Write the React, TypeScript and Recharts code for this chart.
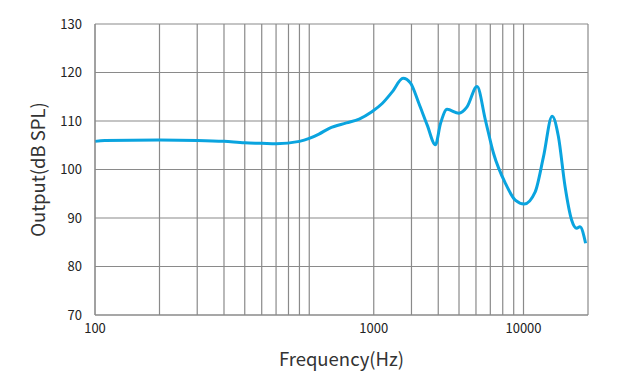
import React from 'react';
import { LineChart, Line, XAxis, YAxis, CartesianGrid } from 'recharts';

// frequency response
const freqs = [100, 111, 200, 300, 400, 500, 600, 700, 900, 1000, 1110, 1240, 1490, 1710, 1960, 2190, 2440, 2740, 2970, 3250, 3550, 3880, 4100, 4400, 4990, 5450, 6070, 6640, 7250, 8220, 9150, 10080, 11340, 12390, 13600, 14550, 15630, 16770, 17700, 18350, 19490];
const output = [105.8, 106.0, 106.1, 106.0, 105.8, 105.5, 105.4, 105.3, 105.8, 106.4, 107.3, 108.5, 109.6, 110.4, 111.9, 113.6, 116.0, 118.8, 117.8, 113.6, 109.2, 105.1, 109.5, 112.4, 111.6, 112.9, 117.1, 110.2, 103.3, 97.2, 93.7, 92.9, 95.4, 102.6, 111.0, 106.8, 96.5, 89.6, 87.9, 88.2, 84.8];

const gridFreqs = [100, 200, 300, 400, 500, 600, 700, 800, 900, 1000, 2000, 3000, 4000, 5000, 6000, 7000, 8000, 9000, 10000, 20000];
// the reference prints its labels at these grid lines
const tickLabels: Record<number, string> = { 100: '100', 2000: '1000', 10000: '10000' };
const yTicks = [70, 80, 90, 100, 110, 120, 130];

const data = freqs.map((f, i) => ({ freq: f, out: output[i] }));

const font = '"Noto Sans CJK SC", "Noto Sans", sans-serif';

export default function App() {
  return (
    <div style={{ position: 'absolute', left: 0, top: 0, background: '#fff' }}>
      <LineChart width={624} height={389} data={data} margin={{ top: 24, right: 36, bottom: 0, left: 0 }}>
        <CartesianGrid stroke="#8a8a8a" strokeWidth={1.2} />
        <XAxis
          dataKey="freq"
          type="number"
          scale="log"
          domain={[100, 20000]}
          ticks={gridFreqs}
          interval={0}
          tickFormatter={(v: number) => tickLabels[v] ?? ''}
          height={74}
          tickLine={false}
          tickMargin={3}
          stroke="#8a8a8a"
          tick={{ fill: '#222', fontSize: 13, fontFamily: font }}
          label={{ value: 'Frequency(Hz)', position: 'insideBottom', offset: 23, fill: '#333', fontSize: 18.5, fontFamily: font }}
        />
        <YAxis
          type="number"
          domain={[70, 130]}
          ticks={yTicks}
          interval={0}
          width={95}
          tickLine={false}
          tickMargin={7}
          stroke="#8a8a8a"
          tick={{ fill: '#222', fontSize: 13, fontFamily: font }}
          label={{ value: 'Output(dB SPL)', angle: -90, position: 'center', dx: -9, fill: '#333', fontSize: 18.5, fontFamily: font }}
        />
        <Line
          dataKey="out"
          type="monotone"
          stroke="#0aa4df"
          strokeWidth={3}
          dot={false}
          isAnimationActive={false}
        />
      </LineChart>
    </div>
  );
}
